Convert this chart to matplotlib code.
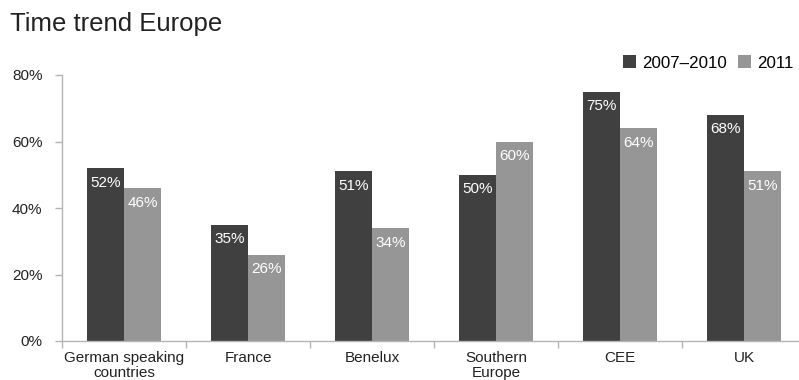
import matplotlib.pyplot as plt
import numpy as np

plt.rcParams['font.family'] = ['Liberation Sans', 'DejaVu Sans']

# Anteil je Region und Zeitraum
regionen = ['German speaking\ncountries', 'France', 'Benelux', 'Southern\nEurope', 'CEE', 'UK']
werte_2007_2010 = [52, 35, 51, 50, 75, 68]
werte_2011 = [46, 26, 34, 60, 64, 51]

dunkel = '#404040'
hell = '#969696'
achse = '#b4b4b4'

fig = plt.figure(figsize=(7.99, 3.8), dpi=100)
ax = fig.add_axes([62 / 799, 1 - 341 / 380, 744 / 799, 266 / 380])

x = np.arange(len(regionen))
breite = 0.3
balken1 = ax.bar(x - breite / 2, werte_2007_2010, breite, color=dunkel, label='2007–2010')
balken2 = ax.bar(x + breite / 2, werte_2011, breite, color=hell, label='2011')

# Werte als weiße Beschriftung im Balken
for balken in (balken1, balken2):
    for b in balken:
        ax.annotate(f'{b.get_height():.0f}%', (b.get_x() + b.get_width() / 2, b.get_height()),
                    xytext=(0, -10.5), textcoords='offset points', ha='center', va='center',
                    color='white', fontsize=11)

ax.set_xlim(-0.5, len(regionen) - 0.5)
ax.set_ylim(0, 80)
ax.set_yticks([0, 20, 40, 60, 80])
ax.set_yticklabels([f'{v}%' for v in [0, 20, 40, 60, 80]], fontsize=11, color='#222222')

# Striche an den Kategoriegrenzen, Beschriftung in der Mitte
ax.set_xticks(np.arange(-0.5, len(regionen), 1))
ax.set_xticklabels([])
ax.set_xticks(x, minor=True)
ax.set_xticklabels(regionen, minor=True, fontsize=11, color='#222222', linespacing=1.12)
ax.tick_params(axis='x', which='major', length=5, color=achse, width=1)
ax.tick_params(axis='x', which='minor', length=0, pad=7)
ax.tick_params(axis='y', length=5, color=achse, width=1, pad=9)

for s in ['top', 'right']:
    ax.spines[s].set_visible(False)
for s in ['left', 'bottom']:
    ax.spines[s].set_color(achse)
    ax.spines[s].set_linewidth(1)

fig.text(10 / 799, 1 - 31 / 380, 'Time trend Europe', fontsize=18.5, color='#222222', va='baseline')

fig.legend(loc='center left', bbox_to_anchor=(623 / 799, 1 - 63 / 380), ncol=2, frameon=False,
           fontsize=12.2, handlelength=0.75, handleheight=0.75, handletextpad=0.35, columnspacing=0.7,
           borderaxespad=0, borderpad=0)

fig.savefig('out.png', dpi=100)
